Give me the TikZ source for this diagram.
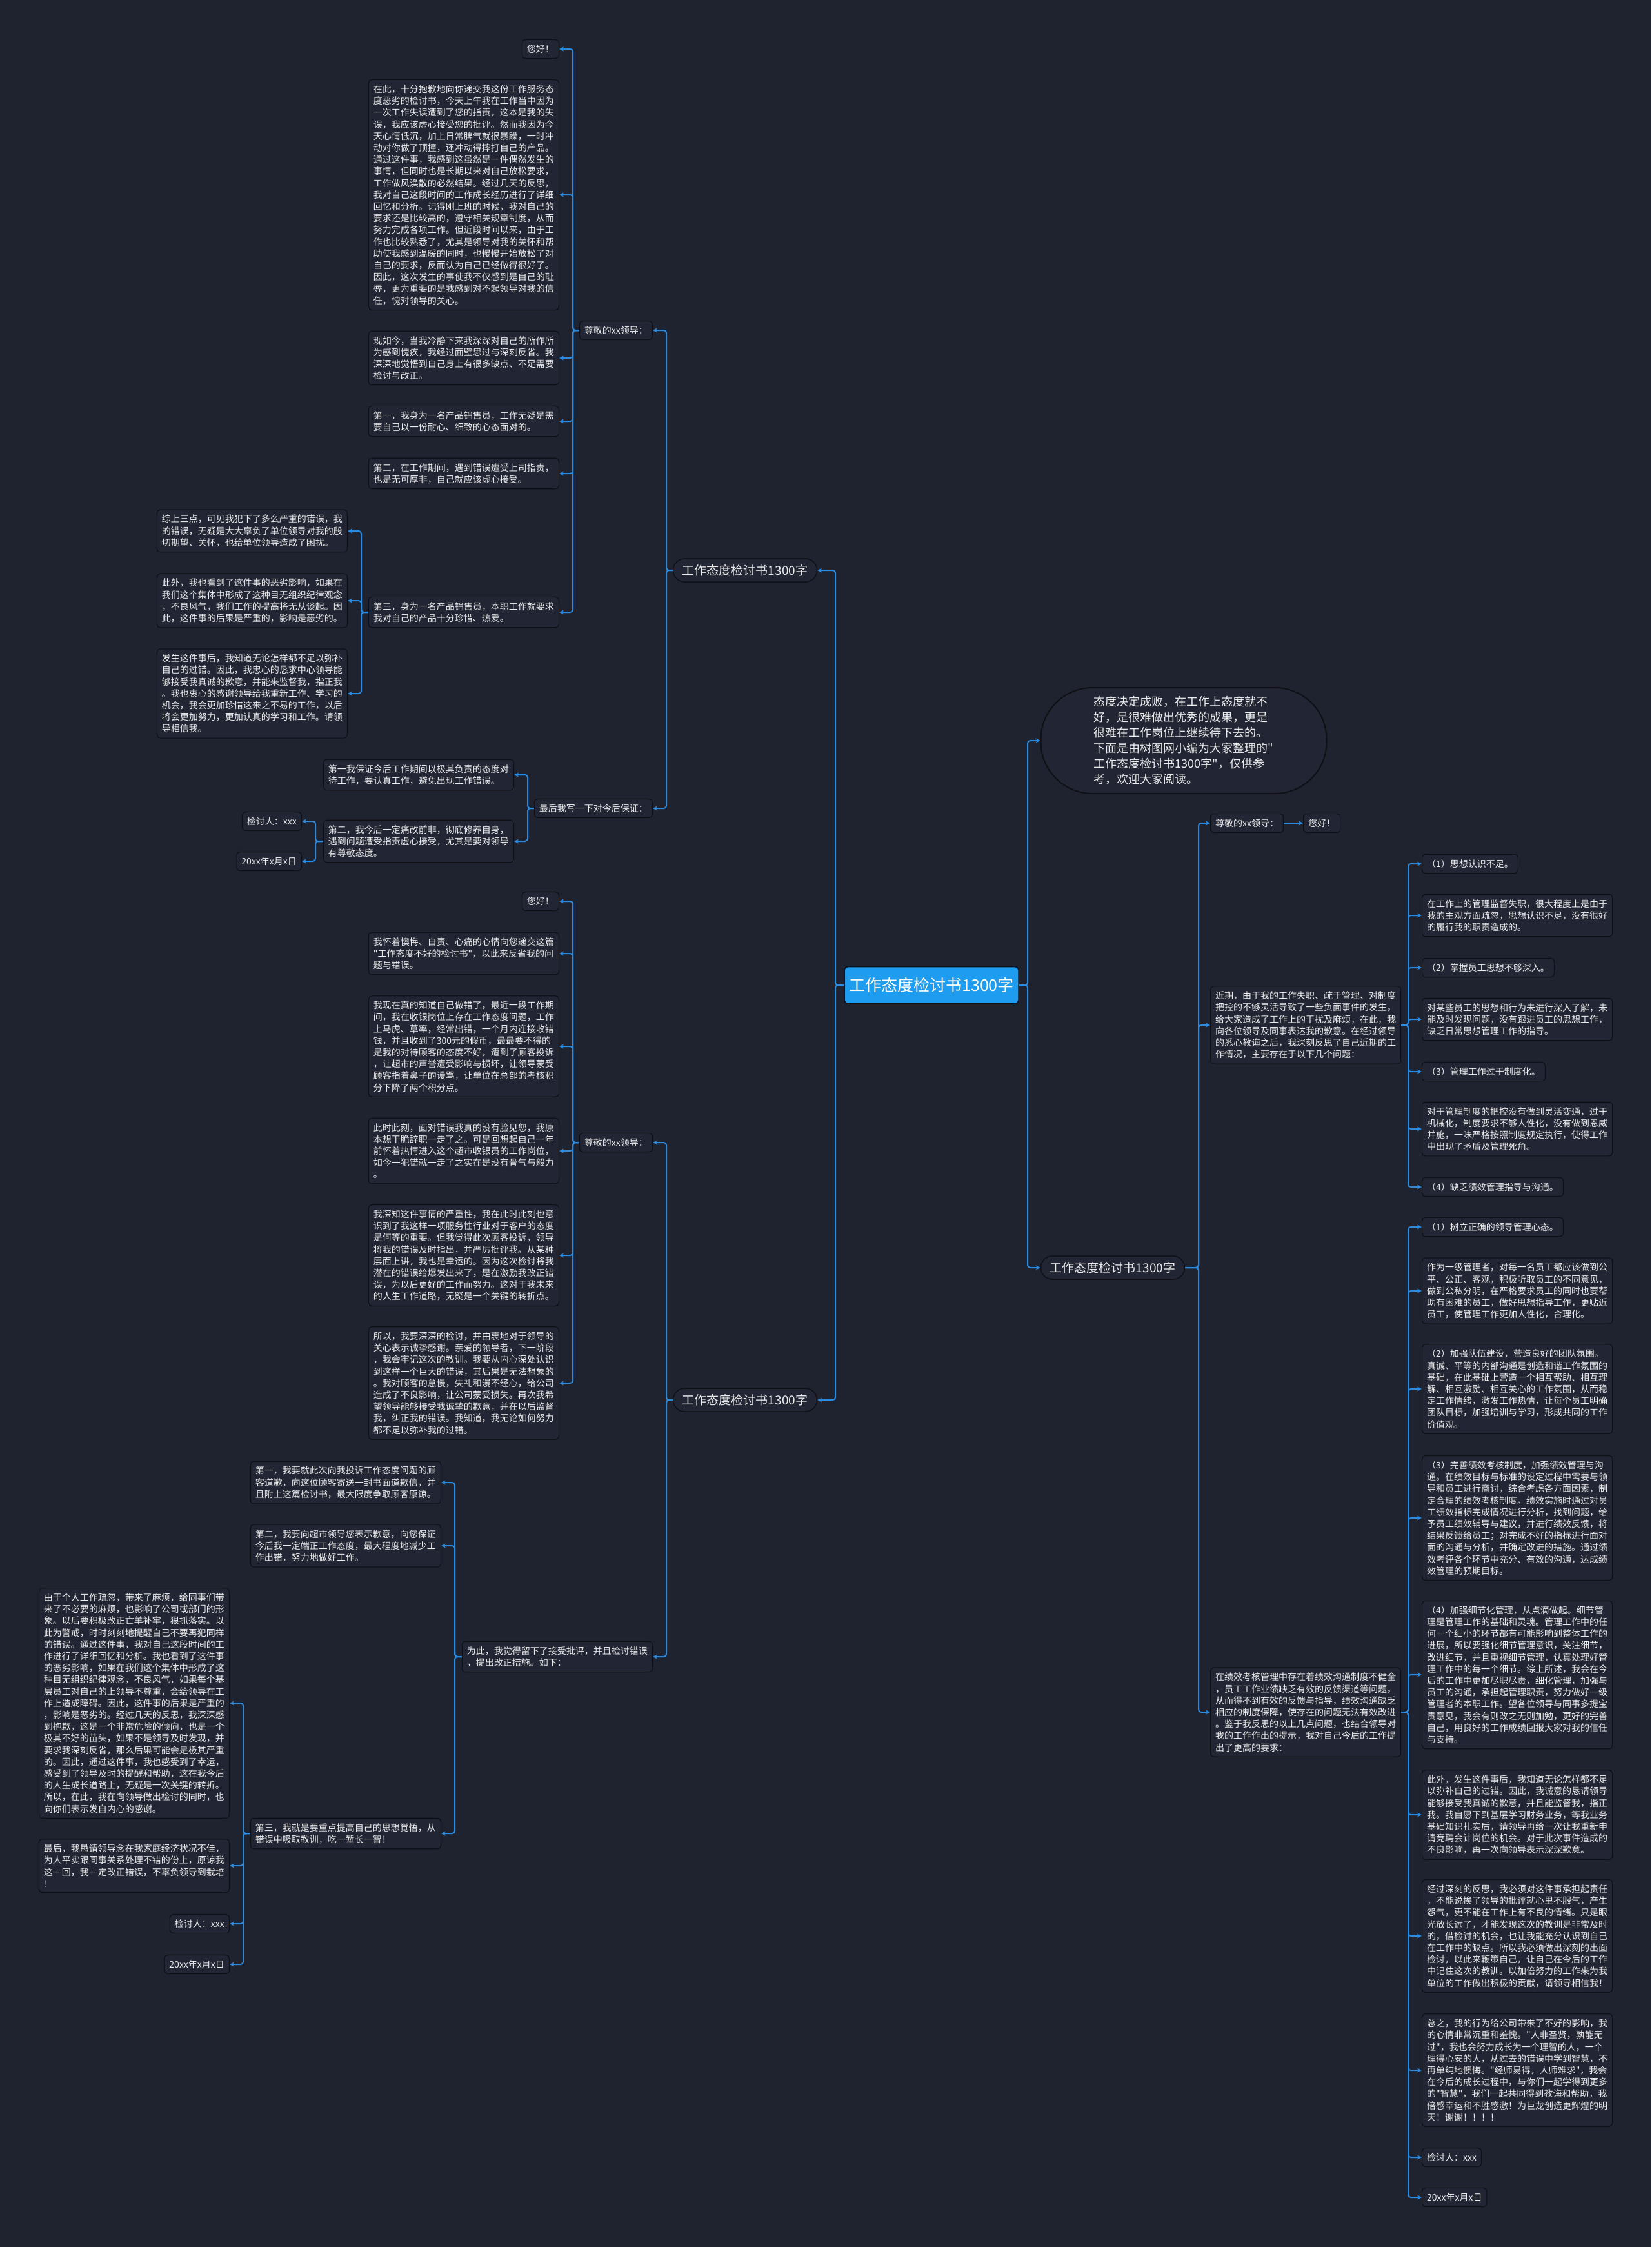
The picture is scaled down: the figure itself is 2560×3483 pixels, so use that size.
\documentclass[tikz,border=0pt]{standalone}
\usepackage{fontspec}
\newfontfamily\cjk{Noto Sans CJK SC}
\usetikzlibrary{arrows.meta}
\definecolor{bg}{HTML}{1F2330}
\definecolor{bfill}{HTML}{222634}
\definecolor{bdr}{HTML}{0E1015}
\definecolor{lc}{HTML}{2A8BE0}
\definecolor{cfill}{HTML}{1E9CF0}
\definecolor{txt}{HTML}{EDEDED}
\newcommand\myL[3]{\draw[conn] (#1.west) -- (#1.west -| #2) |- (#3.east);}
\newcommand\myR[3]{\draw[conn] (#1.east) -- (#1.east -| #2) |- (#3.west);}
\begin{document}
\begin{tikzpicture}[x=1pt,y=-1pt,
  tbox/.style={draw=bdr, fill=bfill, rounded corners=5pt, line width=1.2pt, text=txt,
    font=\cjk\fontsize{14}{18.2}\selectfont, align=left, inner xsep=7.5pt, inner ysep=8pt},
  l1/.style={draw=bdr, fill=bfill, rounded corners=18pt, line width=1.5pt, text=txt,
    font=\cjk\fontsize{19}{24}\selectfont, minimum width=223pt, minimum height=36pt, inner sep=0pt},
  cen/.style={draw=bdr, fill=cfill, rounded corners=5pt, line width=1.5pt, text=white,
    font=\cjk\fontsize{25}{30}\selectfont, minimum width=270pt, minimum height=57pt, inner sep=0pt},
  intro/.style={draw=bdr, fill=bfill, rounded corners=80pt, line width=2pt, text=txt,
    font=\cjk\fontsize{18}{24}\selectfont, align=left, minimum width=443pt, minimum height=164pt, inner sep=0pt},
  conn/.style={draw=lc, line width=2pt, rounded corners=4pt, -{Stealth[length=7pt,width=7pt]}}
]
\fill[bg] (0,0) rectangle (2560,3483);
\useasboundingbox (0,0) rectangle (2560,3483);

% trunk coordinates
\coordinate (tCL) at (1295,0);
\coordinate (tA) at (1033,0);
\coordinate (tAS) at (888,0);
\coordinate (tASs) at (560,0);
\coordinate (tAL) at (818,0);
\coordinate (tALt) at (489,0);
\coordinate (tB) at (1033,0);
\coordinate (tBS) at (888,0);
\coordinate (tBW) at (705,0);
\coordinate (tBWt) at (377,0);
\coordinate (tCR) at (1593,0);
\coordinate (tR) at (1858,0);
\coordinate (tRJ) at (2183,0);
\coordinate (tRZ) at (2183,0);

% central
\node[cen] (C) at (1444,1527) {工作态度检讨书1300字};
\node[intro] (I) at (1835,1148) {态度决定成败，在工作上态度就不\\好，是很难做出优秀的成果，更是\\很难在工作岗位上继续待下去的。\\下面是由树图网小编为大家整理的"\\工作态度检讨书1300字"，仅供参\\考，欢迎大家阅读。};
\node[l1] (A) at (1155,884) {工作态度检讨书1300字};
\node[l1] (B) at (1155,2170) {工作态度检讨书1300字};
\node[l1] (R) at (1725,1965) {工作态度检讨书1300字};

% ---------- A branch ----------
\node[tbox,anchor=east] (AS) at (1012,512) {尊敬的xx领导：};
\node[tbox,anchor=east] (AL) at (1012,1253) {最后我写一下对今后保证：};

\node[tbox,anchor=east] (AS1) at (867,76) {您好！};
\node[tbox,anchor=east] (AS2) at (867,302) {在此，十分抱歉地向你递交我这份工作服务态\\度恶劣的检讨书，今天上午我在工作当中因为\\一次工作失误遭到了您的指责，这本是我的失\\误，我应该虚心接受您的批评。然而我因为今\\天心情低沉，加上日常脾气就很暴躁，一时冲\\动对你做了顶撞，还冲动得摔打自己的产品。\\通过这件事，我感到这虽然是一件偶然发生的\\事情，但同时也是长期以来对自己放松要求，\\工作做风涣散的必然结果。经过几天的反思，\\我对自己这段时间的工作成长经历进行了详细\\回忆和分析。记得刚上班的时候，我对自己的\\要求还是比较高的，遵守相关规章制度，从而\\努力完成各项工作。但近段时间以来，由于工\\作也比较熟悉了，尤其是领导对我的关怀和帮\\助使我感到温暖的同时，也慢慢开始放松了对\\自己的要求，反而认为自己已经做得很好了。\\因此，这次发生的事使我不仅感到是自己的耻\\辱，更为重要的是我感到对不起领导对我的信\\任，愧对领导的关心。};
\node[tbox,anchor=east] (AS3) at (867,555) {现如今，当我冷静下来我深深对自己的所作所\\为感到愧疚，我经过面壁思过与深刻反省。我\\深深地觉悟到自己身上有很多缺点、不足需要\\检讨与改正。};
\node[tbox,anchor=east] (AS4) at (867,653) {第一，我身为一名产品销售员，工作无疑是需\\要自己以一份耐心、细致的心态面对的。};
\node[tbox,anchor=east] (AS5) at (867,734) {第二，在工作期间，遇到错误遭受上司指责，\\也是无可厚非，自己就应该虚心接受。};
\node[tbox,anchor=east] (AS6) at (867,949) {第三，身为一名产品销售员，本职工作就要求\\我对自己的产品十分珍惜、热爱。};

\node[tbox,anchor=east] (AS61) at (539,823) {综上三点，可见我犯下了多么严重的错误，我\\的错误，无疑是大大辜负了单位领导对我的殷\\切期望、关怀，也给单位领导造成了困扰。};
\node[tbox,anchor=east] (AS62) at (539,931) {此外，我也看到了这件事的恶劣影响，如果在\\我们这个集体中形成了这种目无组织纪律观念\\，不良风气，我们工作的提高将无从谈起。因\\此，这件事的后果是严重的，影响是恶劣的。};
\node[tbox,anchor=east] (AS63) at (539,1075) {发生这件事后，我知道无论怎样都不足以弥补\\自己的过错。因此，我忠心的恳求中心领导能\\够接受我真诚的歉意，并能来监督我，指正我\\。我也衷心的感谢领导给我重新工作、学习的\\机会，我会更加珍惜这来之不易的工作，以后\\将会更加努力，更加认真的学习和工作。请领\\导相信我。};

\node[tbox,anchor=east] (AL1) at (797,1201) {第一我保证今后工作期间以极其负责的态度对\\待工作，要认真工作，避免出现工作错误。};
\node[tbox,anchor=east] (AL2) at (797,1304) {第二，我今后一定痛改前非，彻底修养自身，\\遇到问题遭受指责虚心接受，尤其是要对领导\\有尊敬态度。};
\node[tbox,anchor=east] (AL21) at (468,1273) {检讨人：xxx};
\node[tbox,anchor=east] (AL22) at (468,1335) {20xx年x月x日};

% ---------- B branch ----------
\node[tbox,anchor=east] (BS) at (1012,1771) {尊敬的xx领导：};
\node[tbox,anchor=east] (BW) at (1012,2568) {为此，我觉得留下了接受批评，并且检讨错误\\，提出改正措施。如下：};

\node[tbox,anchor=east] (BS1) at (867,1397) {您好！};
\node[tbox,anchor=east] (BS2) at (867,1478) {我怀着懊悔、自责、心痛的心情向您递交这篇\\"工作态度不好的检讨书"，以此来反省我的问\\题与错误。};
\node[tbox,anchor=east] (BS3) at (867,1622) {我现在真的知道自己做错了，最近一段工作期\\间，我在收银岗位上存在工作态度问题，工作\\上马虎、草率，经常出错，一个月内连接收错\\钱，并且收到了300元的假币，最最要不得的\\是我的对待顾客的态度不好，遭到了顾客投诉\\，让超市的声誉遭受影响与损坏，让领导蒙受\\顾客指着鼻子的谩骂，让单位在总部的考核积\\分下降了两个积分点。};
\node[tbox,anchor=east] (BS4) at (867,1784) {此时此刻，面对错误我真的没有脸见您，我原\\本想干脆辞职一走了之。可是回想起自己一年\\前怀着热情进入这个超市收银员的工作岗位，\\如今一犯错就一走了之实在是没有骨气与毅力\\。};
\node[tbox,anchor=east] (BS5) at (867,1946) {我深知这件事情的严重性，我在此时此刻也意\\识到了我这样一项服务性行业对于客户的态度\\是何等的重要。但我觉得此次顾客投诉，领导\\将我的错误及时指出，并严厉批评我。从某种\\层面上讲，我也是幸运的。因为这次检讨将我\\潜在的错误给爆发出来了，是在激励我改正错\\误，为以后更好的工作而努力。这对于我未来\\的人生工作道路，无疑是一个关键的转折点。};
\node[tbox,anchor=east] (BS6) at (867,2144) {所以，我要深深的检讨，并由衷地对于领导的\\关心表示诚挚感谢。亲爱的领导者，下一阶段\\，我会牢记这次的教训。我要从内心深处认识\\到这样一个巨大的错误，其后果是无法想象的\\。我对顾客的怠慢，失礼和漫不经心，给公司\\造成了不良影响，让公司蒙受损失。再次我希\\望领导能够接受我诚挚的歉意，并在以后监督\\我，纠正我的错误。我知道，我无论如何努力\\都不足以弥补我的过错。};

\node[tbox,anchor=east] (BW1) at (684,2298) {第一，我要就此次向我投诉工作态度问题的顾\\客道歉，向这位顾客寄送一封书面道歉信，并\\且附上这篇检讨书，最大限度争取顾客原谅。};
\node[tbox,anchor=east] (BW2) at (684,2396) {第二，我要向超市领导您表示歉意，向您保证\\今后我一定端正工作态度，最大程度地减少工\\作出错，努力地做好工作。};
\node[tbox,anchor=east] (BW3) at (684,2842) {第三，我就是要重点提高自己的思想觉悟，从\\错误中吸取教训，吃一堑长一智！};

\node[tbox,anchor=east] (BW31) at (356,2640) {由于个人工作疏忽，带来了麻烦，给同事们带\\来了不必要的麻烦，也影响了公司或部门的形\\象。以后要积极改正亡羊补牢，狠抓落实。以\\此为警戒，时时刻刻地提醒自己不要再犯同样\\的错误。通过这件事，我对自己这段时间的工\\作进行了详细回忆和分析。我也看到了这件事\\的恶劣影响，如果在我们这个集体中形成了这\\种目无组织纪律观念，不良风气，如果每个基\\层员工对自己的上领导不尊重，会给领导在工\\作上造成障碍。因此，这件事的后果是严重的\\，影响是恶劣的。经过几天的反思，我深深感\\到抱歉，这是一个非常危险的倾向，也是一个\\极其不好的苗头，如果不是领导及时发现，并\\要求我深刻反省，那么后果可能会是极其严重\\的。因此，通过这件事，我也感受到了幸运，\\感受到了领导及时的提醒和帮助，这在我今后\\的人生成长道路上，无疑是一次关键的转折。\\所以，在此，我在向领导做出检讨的同时，也\\向你们表示发自内心的感谢。};
\node[tbox,anchor=east] (BW32) at (356,2892) {最后，我恳请领导念在我家庭经济状况不佳，\\为人平实跟同事关系处理不错的份上，原谅我\\这一回，我一定改正错误，不辜负领导到栽培\\！};
\node[tbox,anchor=east] (BW33) at (356,2982) {检讨人：xxx};
\node[tbox,anchor=east] (BW34) at (356,3045) {20xx年x月x日};

% ---------- R branch ----------
\node[tbox,anchor=west] (RS) at (1876,1276) {尊敬的xx领导：};
\node[tbox,anchor=west] (RS1) at (2020,1276) {您好！};
\node[tbox,anchor=west] (RJ) at (1876,1589) {近期，由于我的工作失职、疏于管理、对制度\\把控的不够灵活导致了一些负面事件的发生，\\给大家造成了工作上的干扰及麻烦，在此，我\\向各位领导及同事表达我的歉意。在经过领导\\的悉心教诲之后，我深刻反思了自己近期的工\\作情况，主要存在于以下几个问题：};
\node[tbox,anchor=west] (RZ) at (1876,2654) {在绩效考核管理中存在着绩效沟通制度不健全\\，员工工作业绩缺乏有效的反馈渠道等问题，\\从而得不到有效的反馈与指导，绩效沟通缺乏\\相应的制度保障，使存在的问题无法有效改进\\。鉴于我反思的以上几点问题，也结合领导对\\我的工作作出的提示，我对自己今后的工作提\\出了更高的要求：};

\node[tbox,anchor=west] (RJ1) at (2204,1339) {（1）思想认识不足。};
\node[tbox,anchor=west] (RJ2) at (2204,1419) {在工作上的管理监督失职，很大程度上是由于\\我的主观方面疏忽，思想认识不足，没有很好\\的履行我的职责造成的。};
\node[tbox,anchor=west] (RJ3) at (2204,1500) {（2）掌握员工思想不够深入。};
\node[tbox,anchor=west] (RJ4) at (2204,1580) {对某些员工的思想和行为未进行深入了解，未\\能及时发现问题，没有跟进员工的思想工作，\\缺乏日常思想管理工作的指导。};
\node[tbox,anchor=west] (RJ5) at (2204,1661) {（3）管理工作过于制度化。};
\node[tbox,anchor=west] (RJ6) at (2204,1750) {对于管理制度的把控没有做到灵活变通，过于\\机械化，制度要求不够人性化，没有做到恩威\\并施，一味严格按照制度规定执行，使得工作\\中出现了矛盾及管理死角。};
\node[tbox,anchor=west] (RJ7) at (2204,1840) {（4）缺乏绩效管理指导与沟通。};

\node[tbox,anchor=west] (RZ1) at (2204,1902) {（1）树立正确的领导管理心态。};
\node[tbox,anchor=west] (RZ2) at (2204,2001) {作为一级管理者，对每一名员工都应该做到公\\平、公正、客观，积极听取员工的不同意见，\\做到公私分明，在严格要求员工的同时也要帮\\助有困难的员工，做好思想指导工作，更贴近\\员工，使管理工作更加人性化，合理化。};
\node[tbox,anchor=west] (RZ3) at (2204,2153) {（2）加强队伍建设，营造良好的团队氛围。\\真诚、平等的内部沟通是创造和谐工作氛围的\\基础，在此基础上营造一个相互帮助、相互理\\解、相互激励、相互关心的工作氛围，从而稳\\定工作情绪，激发工作热情，让每个员工明确\\团队目标，加强培训与学习，形成共同的工作\\价值观。};
\node[tbox,anchor=west] (RZ4) at (2204,2353) {（3）完善绩效考核制度，加强绩效管理与沟\\通。在绩效目标与标准的设定过程中需要与领\\导和员工进行商讨，综合考虑各方面因素，制\\定合理的绩效考核制度。绩效实施时通过对员\\工绩效指标完成情况进行分析，找到问题，给\\予员工绩效辅导与建议，并进行绩效反馈，将\\结果反馈给员工；对完成不好的指标进行面对\\面的沟通与分析，并确定改进的措施。通过绩\\效考评各个环节中充分、有效的沟通，达成绩\\效管理的预期目标。};
\node[tbox,anchor=west] (RZ5) at (2204,2596) {（4）加强细节化管理，从点滴做起。细节管\\理是管理工作的基础和灵魂。管理工作中的任\\何一个细小的环节都有可能影响到整体工作的\\进展，所以要强化细节管理意识，关注细节，\\改进细节，并且重视细节管理，认真处理好管\\理工作中的每一个细节。综上所述，我会在今\\后的工作中更加尽职尽责，细化管理，加强与\\员工的沟通，承担起管理职责，努力做好一级\\管理者的本职工作。望各位领导与同事多提宝\\贵意见，我会有则改之无则加勉，更好的完善\\自己，用良好的工作成绩回报大家对我的信任\\与支持。};
\node[tbox,anchor=west] (RZ6) at (2204,2813) {此外，发生这件事后，我知道无论怎样都不足\\以弥补自己的过错。因此，我诚意的恳请领导\\能够接受我真诚的歉意，并且能监督我，指正\\我。我自愿下到基层学习财务业务，等我业务\\基础知识扎实后，请领导再给一次让我重新申\\请竞聘会计岗位的机会。对于此次事件造成的\\不良影响，再一次向领导表示深深歉意。};
\node[tbox,anchor=west] (RZ7) at (2204,3001) {经过深刻的反思，我必须对这件事承担起责任\\，不能说挨了领导的批评就心里不服气，产生\\怨气，更不能在工作上有不良的情绪。只是眼\\光放长远了，才能发现这次的教训是非常及时\\的，借检讨的机会，也让我能充分认识到自己\\在工作中的缺点。所以我必须做出深刻的出面\\检讨，以此来鞭策自己，让自己在今后的工作\\中记住这次的教训。以加倍努力的工作来为我\\单位的工作做出积极的贡献，请领导相信我！};
\node[tbox,anchor=west] (RZ8) at (2204,3209) {总之，我的行为给公司带来了不好的影响，我\\的心情非常沉重和羞愧。"人非圣贤，孰能无\\过"，我也会努力成长为一个理智的人，一个\\理得心安的人，从过去的错误中学到智慧，不\\再单纯地懊悔。"经师易得，人师难求"，我会\\在今后的成长过程中，与你们一起学得到更多\\的"智慧"，我们一起共同得到教诲和帮助，我\\倍感幸运和不胜感激！为巨龙创造更辉煌的明\\天！谢谢！！！！};
\node[tbox,anchor=west] (RZ9) at (2204,3344) {检讨人：xxx};
\node[tbox,anchor=west] (RZ10) at (2204,3406) {20xx年x月x日};

% ---------- connectors ----------
\myL{C}{tCL}{A}
\myL{C}{tCL}{B}
\myR{C}{tCR}{I}
\myR{C}{tCR}{R}

\myL{A}{tA}{AS}
\myL{A}{tA}{AL}
\foreach \n in {AS1,AS2,AS3,AS4,AS5,AS6} {\myL{AS}{tAS}{\n}}
\foreach \n in {AS61,AS62,AS63} {\myL{AS6}{tASs}{\n}}
\foreach \n in {AL1,AL2} {\myL{AL}{tAL}{\n}}
\foreach \n in {AL21,AL22} {\myL{AL2}{tALt}{\n}}

\myL{B}{tB}{BS}
\myL{B}{tB}{BW}
\foreach \n in {BS1,BS2,BS3,BS4,BS5,BS6} {\myL{BS}{tBS}{\n}}
\foreach \n in {BW1,BW2,BW3} {\myL{BW}{tBW}{\n}}
\foreach \n in {BW31,BW32,BW33,BW34} {\myL{BW3}{tBWt}{\n}}

\myR{R}{tR}{RS}
\myR{R}{tR}{RJ}
\myR{R}{tR}{RZ}
\draw[conn] (RS.east) -- (RS1.west);
\foreach \n in {RJ1,RJ2,RJ3,RJ4,RJ5,RJ6,RJ7} {\myR{RJ}{tRJ}{\n}}
\foreach \n in {RZ1,RZ2,RZ3,RZ4,RZ5,RZ6,RZ7,RZ8,RZ9,RZ10} {\myR{RZ}{tRZ}{\n}}
\end{tikzpicture}
\end{document}
